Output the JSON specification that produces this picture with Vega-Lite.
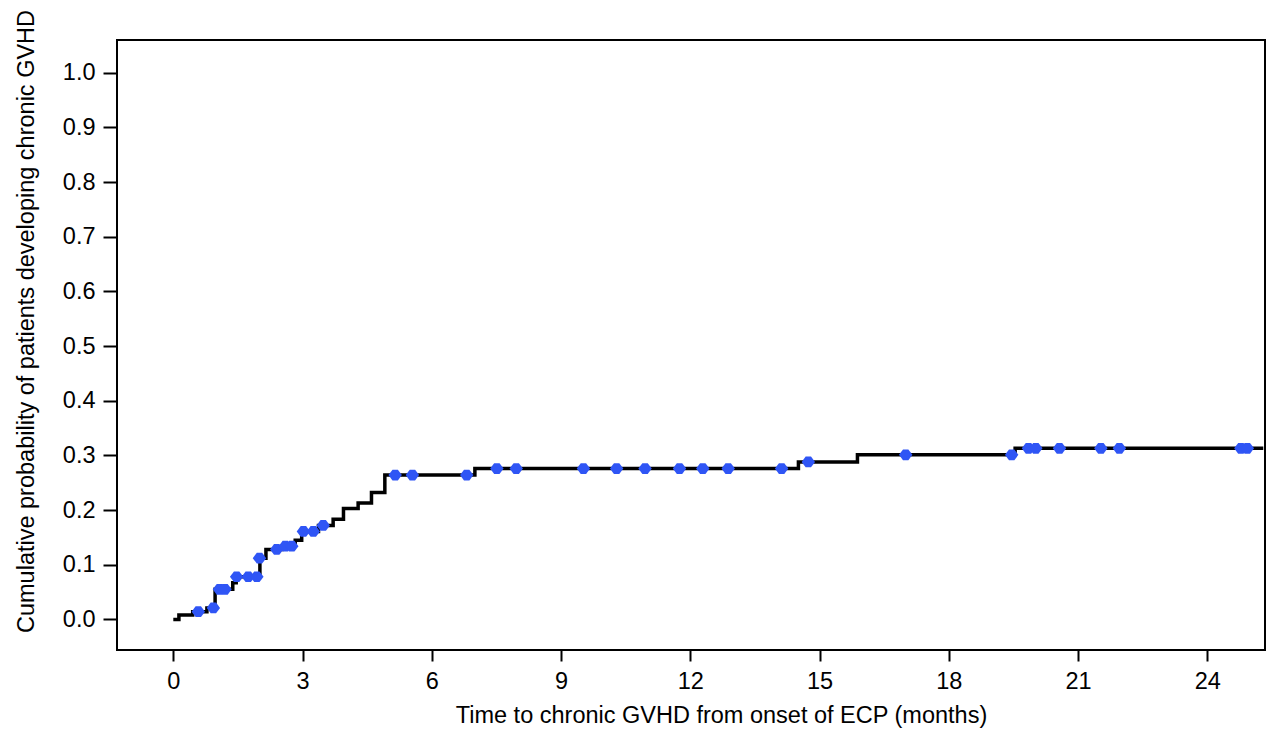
{
  "$schema": "https://vega.github.io/schema/vega-lite/v6.json",
  "width": 1148,
  "height": 610,
  "autosize": {"type": "none"},
  "padding": {"left": 117, "top": 40, "right": 15, "bottom": 102},
  "background": "white",
  "config": {
    "view": {"stroke": "#000000", "strokeWidth": 2},
    "font": "Liberation Sans",
    "axis": {
      "domain": false,
      "grid": false,
      "tickColor": "#000000",
      "tickWidth": 2,
      "labelColor": "#000000",
      "titleColor": "#000000",
      "labelFont": "Liberation Sans",
      "titleFont": "Liberation Sans",
      "labelFontSize": 23.5,
      "titleFontSize": 23.5,
      "titleFontWeight": "normal"
    }
  },
  "datasets": {
    "steps": [
      {"t": 0.0, "p": 0.0},
      {"t": 0.13, "p": 0.008},
      {"t": 0.45, "p": 0.014},
      {"t": 0.78, "p": 0.021},
      {"t": 0.97, "p": 0.055},
      {"t": 1.38, "p": 0.067},
      {"t": 1.46, "p": 0.078},
      {"t": 2.01, "p": 0.112},
      {"t": 2.15, "p": 0.128},
      {"t": 2.52, "p": 0.134},
      {"t": 2.83, "p": 0.145},
      {"t": 2.98, "p": 0.161},
      {"t": 3.37, "p": 0.172},
      {"t": 3.71, "p": 0.183},
      {"t": 3.95, "p": 0.203},
      {"t": 4.29, "p": 0.213},
      {"t": 4.6, "p": 0.232},
      {"t": 4.91, "p": 0.264},
      {"t": 7.0, "p": 0.276},
      {"t": 14.51, "p": 0.288},
      {"t": 15.88, "p": 0.301},
      {"t": 19.54, "p": 0.313},
      {"t": 25.3, "p": 0.313}
    ],
    "censored": [
      {"t": 0.58, "p": 0.014},
      {"t": 0.93, "p": 0.021},
      {"t": 1.07, "p": 0.055},
      {"t": 1.2, "p": 0.055},
      {"t": 1.47, "p": 0.078},
      {"t": 1.74, "p": 0.078},
      {"t": 1.94, "p": 0.078},
      {"t": 2.0, "p": 0.112},
      {"t": 2.4, "p": 0.128},
      {"t": 2.6, "p": 0.134},
      {"t": 2.75, "p": 0.134},
      {"t": 3.02, "p": 0.161},
      {"t": 3.25, "p": 0.161},
      {"t": 3.48, "p": 0.172},
      {"t": 5.15, "p": 0.264},
      {"t": 5.55, "p": 0.264},
      {"t": 6.81, "p": 0.264},
      {"t": 7.51, "p": 0.276},
      {"t": 7.96, "p": 0.276},
      {"t": 9.52, "p": 0.276},
      {"t": 10.29, "p": 0.276},
      {"t": 10.95, "p": 0.276},
      {"t": 11.75, "p": 0.276},
      {"t": 12.29, "p": 0.276},
      {"t": 12.88, "p": 0.276},
      {"t": 14.12, "p": 0.276},
      {"t": 14.74, "p": 0.288},
      {"t": 17.0, "p": 0.301},
      {"t": 19.46, "p": 0.301},
      {"t": 19.85, "p": 0.313},
      {"t": 20.02, "p": 0.313},
      {"t": 20.57, "p": 0.313},
      {"t": 21.53, "p": 0.313},
      {"t": 21.96, "p": 0.313},
      {"t": 24.78, "p": 0.313},
      {"t": 24.93, "p": 0.313}
    ]
  },
  "encoding": {
    "x": {
      "field": "t",
      "type": "quantitative",
      "scale": {"domain": [-1.307, 25.34], "nice": false, "zero": false},
      "axis": {
        "values": [0, 3, 6, 9, 12, 15, 18, 21, 24],
        "title": "Time to chronic GVHD from onset of ECP  (months)",
        "tickSize": 11,
        "labelPadding": 8,
        "titleX": 604,
        "titleY": 72,
        "titleBaseline": "alphabetic"
      }
    },
    "y": {
      "field": "p",
      "type": "quantitative",
      "scale": {"domain": [-0.056, 1.06], "nice": false, "zero": false},
      "axis": {
        "values": [0, 0.1, 0.2, 0.3, 0.4, 0.5, 0.6, 0.7, 0.8, 0.9, 1.0],
        "format": ".1f",
        "title": "Cumulative probability of patients developing chronic GVHD",
        "tickSize": 14,
        "labelPadding": 8,
        "titleX": -84,
        "titleY": 281,
        "titleAngle": -90,
        "titleAlign": "center",
        "titleBaseline": "alphabetic"
      }
    }
  },
  "layer": [
    {
      "data": {"name": "steps"},
      "mark": {"type": "line", "interpolate": "step-after", "color": "#000000", "strokeWidth": 3.5}
    },
    {
      "data": {"name": "censored"},
      "mark": {
        "type": "point",
        "shape": "M-1,0L-0.4,-0.8L0.4,-0.8L1,0L0.4,0.8L-0.4,0.8Z",
        "size": 180,
        "filled": true,
        "opacity": 1,
        "color": "#2f55f5"
      }
    }
  ]
}
